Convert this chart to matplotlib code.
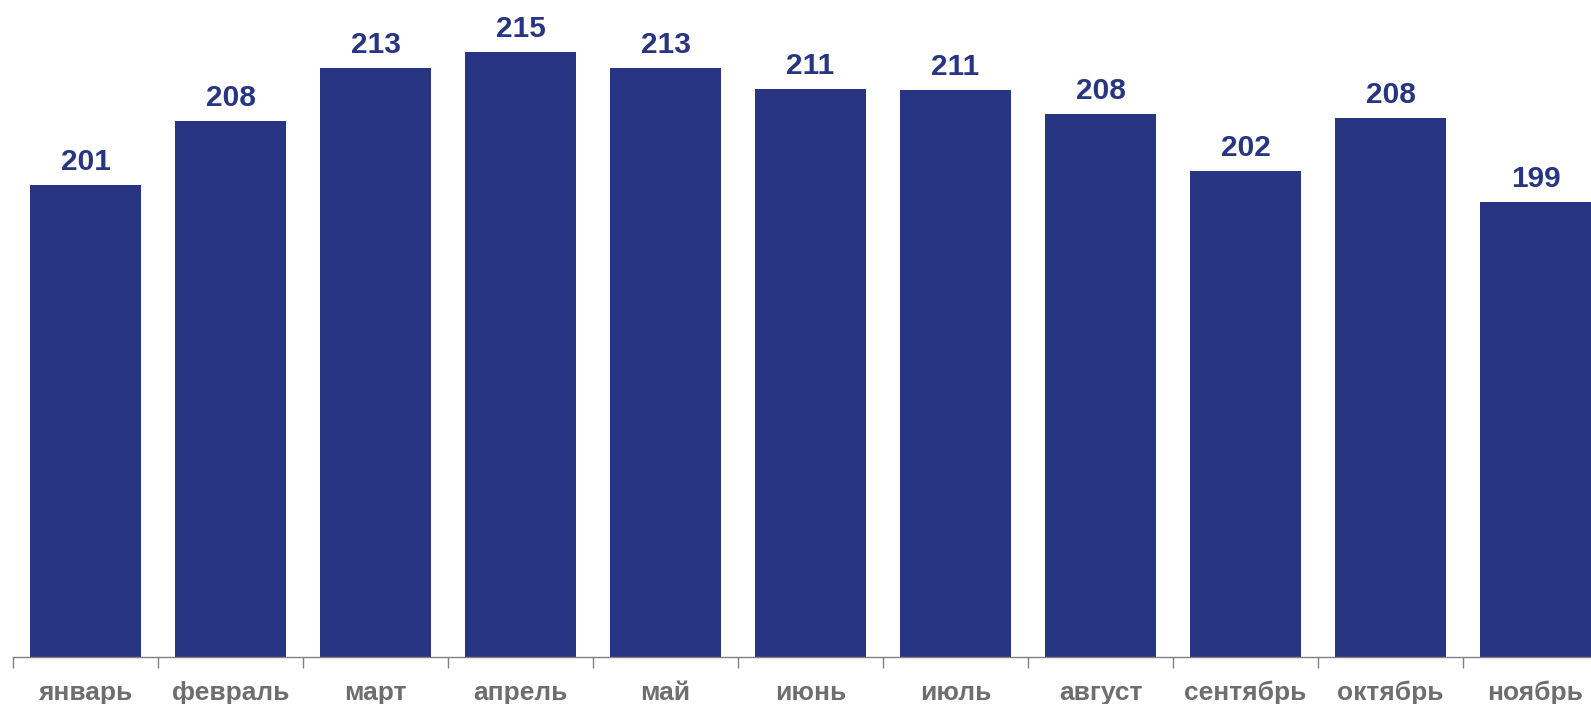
import numpy as np
import matplotlib
matplotlib.use("Agg")
import matplotlib.pyplot as plt

plt.rcParams['font.family'] = ['Liberation Sans', 'DejaVu Sans']

# months and values (labels shown rounded)
months = ['январь', 'февраль', 'март', 'апрель', 'май', 'июнь',
          'июль', 'август', 'сентябрь', 'октябрь', 'ноябрь']
values = [200.8, 207.6, 213.3, 215.0, 213.3, 211.1,
          211.0, 208.4, 202.3, 208.0, 198.9]

bar_color = '#283582'
label_grey = '#6e6e6e'

fig = plt.figure(figsize=(15.91, 7.04), dpi=100)
ax = fig.add_axes([13 / 1591, 47 / 704, 1 - 13 / 1591, 657 / 704])

x = np.arange(len(months))
bars = ax.bar(x, values, width=0.772, color=bar_color)

ax.set_ylim(150, 150 + 657 / 9.3)
ax.set_xlim(-0.5, -0.5 + (1591 - 13) / 145)

# value labels above bars
for xi, v in zip(x, values):
    ax.annotate(f'{round(v)}', (xi, v), xytext=(0, 6.5), textcoords='offset points',
                ha='center', va='bottom', fontsize=21.5, fontweight='bold', color=bar_color)

# ticks between categories, labels in the middle
ax.set_xticks(x - 0.5)
ax.set_xticklabels([])
ax.set_xticks(x, minor=True)
ax.set_xticklabels(months, minor=True, fontsize=19, fontweight='bold', color=label_grey)
ax.tick_params(axis='x', which='major', direction='out', length=8, width=1, color='#808080')
ax.tick_params(axis='x', which='minor', length=0, pad=17)
ax.set_yticks([])

for s in ['top', 'right', 'left']:
    ax.spines[s].set_visible(False)
ax.spines['bottom'].set_color('#808080')
ax.spines['bottom'].set_linewidth(1)

fig.savefig('out.png', dpi=100)
